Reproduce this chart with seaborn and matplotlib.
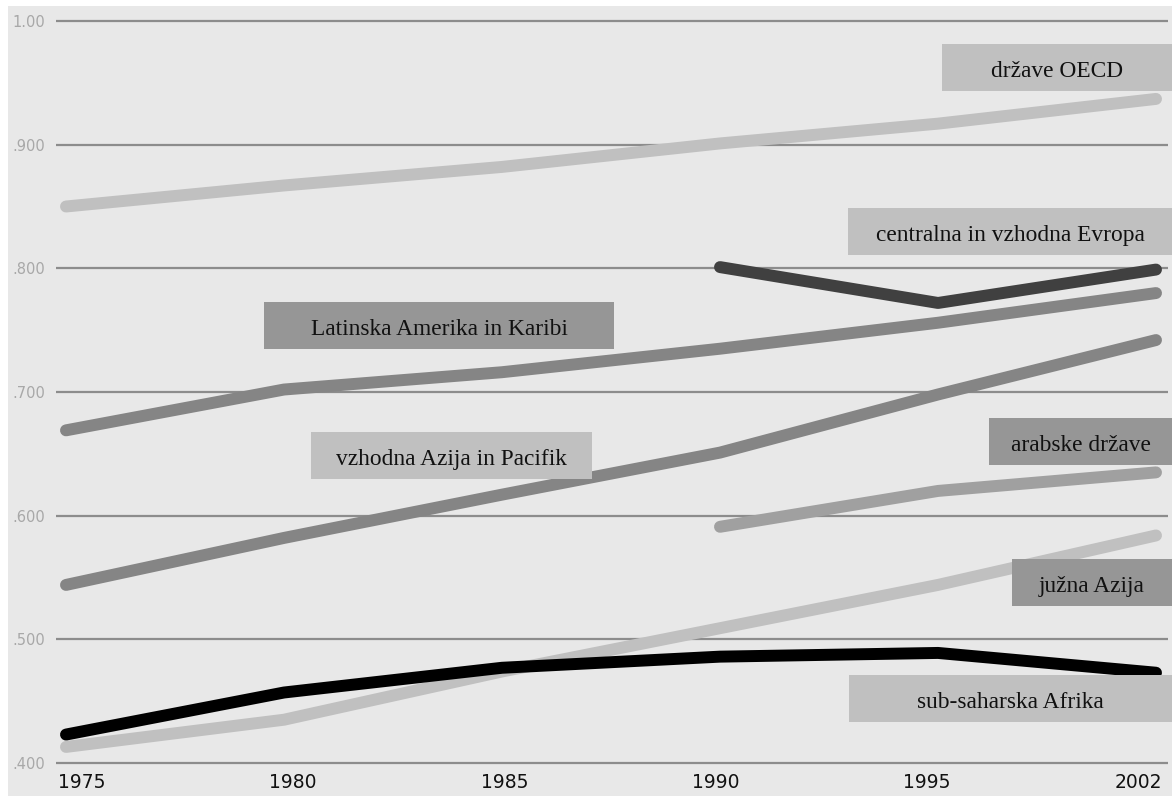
import numpy as np
import pandas as pd
import matplotlib.pyplot as plt
import seaborn as sns
from matplotlib.patches import Rectangle

W, H = 1172, 796

# HDI trends by region
years = ['1975', '1980', '1985', '1990', '1995', '2002']
oecd = [0.850, 0.867, 0.882, 0.901, 0.917, 0.937]
latam = [0.669, 0.702, 0.716, 0.735, 0.756, 0.780]
cee = [np.nan, np.nan, np.nan, 0.801, 0.772, 0.799]
easia = [0.544, 0.582, 0.617, 0.651, 0.698, 0.742]
arab = [np.nan, np.nan, np.nan, 0.591, 0.620, 0.635]
sasia = [0.413, 0.435, 0.474, 0.509, 0.544, 0.584]
ssa = [0.423, 0.457, 0.477, 0.486, 0.489, 0.473]

regions = ['države OECD', 'Latinska Amerika in Karibi', 'centralna in vzhodna Evropa',
           'vzhodna Azija in Pacifik', 'arabske države', 'južna Azija', 'sub-saharska Afrika']
series = [oecd, latam, cee, easia, arab, sasia, ssa]
colors = ['#c0c0c0', '#858585', '#404040', '#858585', '#a0a0a0', '#c0c0c0', '#000000']

ytick_vals = [0.4, 0.5, 0.6, 0.7, 0.8, 0.9, 1.0]
ytick_labels = ['.400', '.500', '.600', '.700', '.800', '.900', '1.00']

rows = []
for name, vals in zip(regions, series):
    for i, v in enumerate(vals):
        if not np.isnan(v):
            rows.append({'region': name, 'pos': i, 'year': years[i], 'hdi': v})
df = pd.DataFrame(rows)

sns.set_style('white')
fig = plt.figure(figsize=(W / 100, H / 100), dpi=100, facecolor='white')
fig.patches.append(Rectangle((8 / W, 0), 1 - 8 / W, 1 - 6 / H, transform=fig.transFigure,
                             facecolor='#e8e8e8', edgecolor='none', zorder=-5))

# axes: x index 0..5 -> px 66..1156 ; y .400 -> 763 px, 1.00 -> 21 px
ppu = 742 / 0.6
y0, y1 = 0.395, 1.005
top_px = 21 - (y1 - 1.0) * ppu
bot_px = 763 + (0.4 - y0) * ppu
ax = fig.add_axes([56 / W, 1 - bot_px / H, 1112 / W, (bot_px - top_px) / H])
ax.set_facecolor('none')
ax.set_zorder(1)

sns.lineplot(data=df, x='pos', y='hdi', hue='region', hue_order=regions,
             palette=dict(zip(regions, colors)), linewidth=8.6, legend=False,
             estimator=None, sort=False, ax=ax, solid_capstyle='round', zorder=3)

ax.set_xlim(-10 / 218, 5 + 12 / 218)
ax.set_ylim(y0, y1)
ax.set_yticks(ytick_vals)
ax.set_yticklabels(ytick_labels, color='#a8a8a8', fontsize=10.5)
ax.set_xticks(np.linspace(0.073, 4.917, 6))
ax.set_xticklabels(years, color='#111111', fontsize=13.5, fontweight='medium')
ax.tick_params(axis='y', length=0, pad=8)
ax.tick_params(axis='x', length=0, pad=3)
ax.grid(axis='y', color='#8c8c8c', linewidth=1.6)
ax.set_axisbelow(True)
ax.set_xlabel('')
ax.set_ylabel('')
for s in ax.spines.values():
    s.set_visible(False)

# region label boxes (pixel layout)
box_left = [942, 264, 848, 311, 989, 1012, 849]
box_right = [1172, 614, 1172, 592, 1172, 1172, 1172]
box_top = [44, 302, 208, 432, 418, 559, 675]
box_fill = ['#c0c0c0', '#969696', '#c0c0c0', '#c0c0c0', '#969696', '#969696', '#c0c0c0']
bh = 47
for name, l, r, t, fc in zip(regions, box_left, box_right, box_top, box_fill):
    fig.patches.append(Rectangle((l / W, 1 - (t + bh) / H), (r - l) / W, bh / H,
                                 transform=fig.transFigure, facecolor=fc,
                                 edgecolor='none', zorder=5))
    fig.text((l + r) / 2 / W, 1 - (t + 33) / H, name, ha='center', va='baseline',
             family='Liberation Serif', fontsize=16.8, color='#111111', zorder=6)

fig.savefig('out.png', dpi=100, facecolor=fig.get_facecolor())
